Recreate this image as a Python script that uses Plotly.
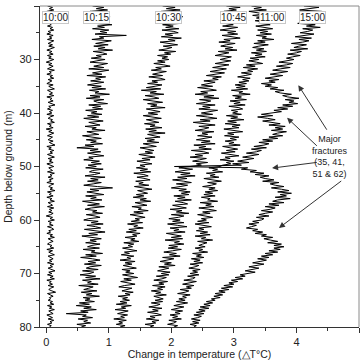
import numpy as np
import plotly.graph_objects as go

# depth below ground (m), sampled every 0.25 m from 20 m
DEPTH_START, DEPTH_STEP = 20.0, 0.25

series_names = ["10:00", "10:15", "10:30", "10:45", "11:00", "15:00"]

dT_1000 = [
    0.02,0.10,0.05,0.12,0.01,0.08,0.04,0.11,0.06,0.00,0.09,0.03,0.13,0.05,0.08,0.02,0.10,0.06,0.12,0.03,
    0.07,0.01,0.11,0.05,0.09,0.02,0.12,0.06,0.03,0.10,0.04,0.13,0.07,0.01,0.09,0.05,0.11,0.02,0.08,0.04,
    0.12,0.06,0.00,0.09,0.04,0.11,0.07,0.02,0.13,0.05,0.08,0.01,0.10,0.06,0.12,0.03,0.09,0.05,0.01,0.11,
    0.04,0.08,0.13,0.02,0.07,0.10,0.05,0.12,0.01,0.09,0.06,0.11,0.03,0.08,0.14,0.04,0.07,0.02,0.10,0.05,
    0.09,0.01,0.12,0.06,0.03,0.10,0.07,0.13,0.02,0.08,0.05,0.11,0.00,0.09,0.04,0.12,0.06,0.02,0.10,0.07,
    0.03,0.11,0.05,0.09,0.14,0.01,0.08,0.04,0.12,0.06,0.10,0.02,0.07,0.13,0.03,0.09,0.05,0.11,0.01,0.08,
    0.12,0.04,0.07,0.10,0.02,0.13,0.06,0.09,0.03,0.11,0.05,0.08,0.01,0.12,0.07,0.04,0.10,0.06,0.14,0.02,
    0.08,0.05,0.11,0.01,0.09,0.06,0.13,0.03,0.07,0.10,0.02,0.12,0.05,0.09,0.04,0.11,0.07,0.00,0.10,0.06,
    0.13,0.03,0.08,0.05,0.11,0.02,0.09,0.12,0.04,0.07,0.01,0.10,0.06,0.13,0.03,0.08,0.11,0.05,0.02,0.09,
    0.06,0.12,0.01,0.10,0.04,0.08,0.13,0.03,0.07,0.11,0.05,0.09,0.02,0.12,0.06,0.10,0.03,0.08,0.14,0.04,
    0.09,0.02,0.11,0.06,0.13,0.01,0.08,0.05,0.10,0.03,0.12,0.07,0.04,0.09,0.15,0.02,0.08,0.11,0.05,0.07,
    0.03,0.10,0.06,0.12,0.02,0.09,0.05,0.13,0.04,0.08,0.11,0.01,0.07,0.10,0.03,0.12,0.06,0.09,0.02,0.08,
    0.05]

dT_1015 = [
    0.74,0.92,0.80,0.98,0.70,0.88,0.95,0.76,1.02,0.84,0.71,0.96,0.87,0.78,1.05,0.82,0.93,0.74,1.00,0.86,
    0.97,0.78,1.28,0.85,0.92,0.73,1.04,0.88,0.79,0.99,0.76,0.94,0.83,1.06,0.75,0.90,0.97,0.80,0.88,0.72,
    0.94,0.81,0.70,0.98,0.86,0.76,0.92,0.68,1.00,0.83,0.74,0.89,0.65,0.95,0.79,0.87,0.71,0.92,0.80,0.66,
    0.88,0.73,0.95,0.69,0.84,0.78,1.01,0.70,0.86,0.64,0.92,0.76,0.82,0.98,0.68,0.87,0.74,0.90,0.63,0.81,
    0.72,0.89,0.66,0.84,0.60,0.79,0.91,0.68,0.77,0.86,0.62,0.80,0.73,0.94,0.65,0.78,0.84,0.58,0.75,0.88,
    0.64,0.80,0.71,0.90,0.62,0.76,0.49,0.83,0.70,0.87,0.66,0.79,0.92,0.68,0.75,0.60,0.85,0.72,0.88,0.67,
    0.80,0.63,0.91,0.74,0.69,0.86,0.77,0.62,0.94,0.71,0.83,0.66,0.88,0.75,0.60,0.82,1.06,0.70,0.84,0.65,
    0.77,0.92,0.63,0.80,0.71,0.89,0.58,0.76,0.85,0.66,0.93,0.72,0.62,0.81,0.74,0.90,0.64,0.78,0.86,0.68,
    0.60,0.83,0.72,0.91,0.65,0.79,0.87,0.61,0.76,0.94,0.68,0.82,0.57,0.75,0.88,0.70,0.80,0.63,0.86,0.73,
    0.66,0.85,0.59,0.78,0.72,0.90,0.63,0.80,0.55,0.74,0.86,0.67,0.79,0.61,0.88,0.70,0.64,0.83,0.58,0.76,
    0.70,0.54,0.79,0.63,0.86,0.58,0.72,0.66,0.83,0.52,0.75,0.68,0.60,0.81,0.56,0.73,0.64,0.85,0.59,0.70,
    0.62,0.77,0.53,0.69,0.48,0.72,0.60,0.80,0.55,0.67,0.32,0.64,0.58,0.74,0.51,0.66,0.60,0.71,0.49,0.63,
    0.56]

dT_1030 = [
    1.86,2.06,1.92,2.14,1.84,2.00,2.10,1.88,2.18,1.95,1.83,2.08,1.97,2.15,1.86,2.03,1.91,2.12,1.85,2.04,
    2.11,1.90,2.02,1.84,2.16,1.95,2.06,1.82,1.98,2.10,1.87,2.01,1.93,1.80,2.07,1.89,1.99,1.78,1.94,1.85,
    1.96,1.78,1.90,1.72,1.88,1.98,1.75,1.84,1.68,1.92,1.80,1.70,1.86,1.64,1.82,1.90,1.69,1.78,1.62,1.85,
    1.74,1.60,1.83,1.52,1.76,1.66,1.88,1.58,1.72,1.80,1.55,1.69,1.86,1.62,1.77,1.67,1.90,1.60,1.75,1.82,
    1.63,1.78,1.55,1.72,1.84,1.60,1.69,1.80,1.57,1.74,1.66,1.85,1.59,1.76,1.64,1.90,1.62,1.71,1.82,1.58,
    1.73,1.61,1.80,1.55,1.68,1.76,1.50,1.65,1.72,1.58,1.70,1.48,1.63,1.74,1.53,1.66,1.45,1.60,1.69,1.50,
    1.58,1.44,1.62,1.50,1.67,1.40,1.56,1.63,1.45,1.58,1.66,1.43,1.55,1.48,1.64,1.41,1.57,1.69,1.46,1.53,
    1.62,1.44,1.56,1.39,1.60,1.50,1.67,1.42,1.54,1.61,1.37,1.52,1.47,1.63,1.40,1.55,1.34,1.50,1.58,1.42,
    1.49,1.36,1.54,1.30,1.46,1.40,1.55,1.32,1.44,1.28,1.50,1.38,1.45,1.26,1.42,1.35,1.48,1.24,1.40,1.31,
    1.38,1.22,1.36,1.45,1.25,1.33,1.20,1.40,1.29,1.35,1.18,1.42,1.26,1.37,1.23,1.32,1.44,1.21,1.34,1.27,
    1.40,1.22,1.33,1.46,1.24,1.36,1.19,1.31,1.42,1.25,1.16,1.37,1.28,1.21,1.39,1.26,1.34,1.15,1.30,1.22,
    1.33,1.18,1.29,1.12,1.36,1.20,1.27,1.10,1.31,1.23,1.14,1.30,1.19,1.25,1.08,1.28,1.16,1.22,1.12,1.26,
    1.18]

dT_1045 = [
    2.88,3.10,2.92,3.04,2.84,3.14,2.95,2.86,3.08,2.80,3.02,2.93,3.12,2.85,2.99,2.82,3.06,2.91,2.78,3.03,
    2.90,3.06,2.81,2.97,3.10,2.84,2.94,2.76,3.02,2.88,2.79,2.98,2.86,3.05,2.75,2.92,2.83,2.70,2.96,2.85,
    2.78,2.95,2.84,2.70,2.92,2.80,2.66,2.88,2.74,2.62,2.85,2.71,2.56,2.80,2.66,2.75,2.52,2.70,2.60,2.48,
    2.66,2.42,2.60,2.72,2.47,2.58,2.38,2.68,2.52,2.76,2.45,2.63,2.55,2.40,2.70,2.50,2.62,2.44,2.74,2.57,
    2.48,2.66,2.40,2.58,2.73,2.46,2.62,2.35,2.56,2.70,2.44,2.60,2.52,2.38,2.68,2.49,2.58,2.42,2.65,2.50,
    2.40,2.62,2.48,2.70,2.36,2.55,2.44,2.64,2.32,2.52,2.60,2.38,2.50,2.30,2.56,2.45,2.34,2.58,2.40,2.48,
    2.28,2.12,2.34,2.18,2.06,2.30,2.15,2.38,2.10,2.25,2.02,2.20,2.32,2.08,2.26,2.14,2.00,2.24,2.12,2.30,
    2.16,2.28,2.04,2.22,2.10,2.32,2.06,2.19,2.26,2.02,2.14,2.24,1.98,2.17,2.08,2.28,2.00,2.20,2.11,1.96,
    2.14,2.02,2.20,1.94,2.10,2.25,1.98,2.12,2.04,2.22,1.92,2.08,2.16,2.00,2.18,1.90,2.13,2.05,2.20,1.96,
    2.10,1.95,2.16,2.02,1.88,2.08,1.97,2.14,1.86,2.04,1.92,1.82,2.00,1.89,2.06,1.80,1.96,1.87,1.78,1.98,
    1.84,1.96,1.76,1.92,1.85,1.72,1.94,1.80,1.88,1.70,1.90,1.78,1.86,1.68,1.83,1.75,1.92,1.72,1.80,1.87,
    1.74,1.86,1.68,1.82,1.76,1.64,1.85,1.70,1.79,1.62,1.77,1.84,1.66,1.74,1.60,1.80,1.69,1.75,1.58,1.72,
    1.66]

dT_1100 = [
    3.28,3.44,3.32,3.52,3.24,3.40,3.50,3.30,3.46,3.36,3.56,3.34,3.48,3.40,3.58,3.35,3.50,3.62,3.38,3.54,
    3.42,3.60,3.36,3.52,3.45,3.64,3.38,3.50,3.32,3.55,3.40,3.30,3.48,3.36,3.52,3.28,3.45,3.34,3.50,3.26,
    3.40,3.24,3.36,3.46,3.20,3.34,3.15,3.38,3.22,3.30,3.12,3.28,3.18,3.06,3.26,3.14,3.24,3.08,3.20,3.02,
    3.18,3.04,3.22,2.96,3.14,3.08,3.26,2.98,3.12,3.02,3.20,2.94,3.10,3.00,3.18,2.92,3.08,3.14,2.96,3.06,
    2.98,3.12,2.88,3.06,2.95,3.16,2.90,3.04,2.86,3.10,2.97,3.08,2.84,3.02,3.14,2.90,3.00,2.85,3.08,2.94,
    3.04,2.86,3.00,2.92,3.10,2.82,2.98,3.06,2.88,3.02,2.80,2.96,3.08,2.86,2.94,2.78,3.00,2.88,2.95,2.82,
    2.78,2.60,2.74,2.66,2.82,2.56,2.70,2.62,2.76,2.52,2.68,2.80,2.58,2.72,2.64,2.50,2.70,2.60,2.74,2.54,
    2.66,2.52,2.70,2.48,2.62,2.58,2.74,2.46,2.64,2.55,2.68,2.44,2.60,2.72,2.50,2.62,2.42,2.58,2.66,2.48,
    2.56,2.42,2.60,2.38,2.54,2.64,2.44,2.52,2.40,2.58,2.46,2.62,2.38,2.55,2.48,2.66,2.42,2.57,2.50,2.44,
    2.54,2.38,2.50,2.44,2.58,2.34,2.48,2.40,2.52,2.32,2.46,2.36,2.50,2.30,2.44,2.38,2.28,2.46,2.34,2.42,
    2.30,2.44,2.26,2.38,2.34,2.20,2.40,2.28,2.18,2.36,2.24,2.32,2.14,2.28,2.22,2.10,2.30,2.18,2.24,2.12,
    2.22,2.08,2.26,2.14,2.04,2.20,2.12,2.00,2.18,2.06,2.14,1.98,2.10,2.02,2.16,1.96,2.08,2.04,1.94,2.10,
    2.04]

dT_1500 = [
    4.12,4.36,4.20,4.05,4.40,4.26,4.14,4.44,4.18,4.30,4.08,4.34,4.24,4.02,4.30,4.16,4.38,4.10,4.26,4.18,
    4.06,4.28,4.14,3.98,4.24,4.04,4.20,4.10,3.92,4.16,4.04,3.96,4.18,3.90,4.08,4.00,3.86,4.06,3.94,3.84,
    3.96,3.80,3.72,3.94,3.84,3.68,3.90,3.74,3.62,3.86,3.70,3.58,3.78,3.64,3.50,3.72,3.56,3.66,3.44,3.60,
    3.50,3.70,3.58,3.80,3.66,3.74,3.92,3.78,3.86,4.04,3.82,3.96,3.88,4.02,3.78,3.94,3.70,3.86,3.64,3.76,
    3.58,3.44,3.62,3.38,3.54,3.66,3.46,3.60,3.74,3.56,3.82,3.66,3.78,3.60,3.84,3.70,3.62,3.78,3.56,3.70,
    3.46,3.62,3.40,3.56,3.48,3.32,3.52,3.28,3.44,3.36,3.20,3.40,3.26,3.14,3.32,3.18,3.06,3.24,2.98,3.12,
    2.05,3.22,3.12,3.36,3.26,3.48,3.34,3.56,3.42,3.50,3.64,3.46,3.72,3.58,3.66,3.80,3.60,3.76,3.88,3.70,
    3.92,3.74,3.84,3.66,3.90,3.70,3.62,3.80,3.56,3.72,3.50,3.66,3.58,3.44,3.62,3.50,3.40,3.56,3.36,3.48,
    3.44,3.30,3.40,3.24,3.36,3.28,3.20,3.38,3.30,3.46,3.34,3.52,3.44,3.62,3.48,3.58,3.70,3.54,3.76,3.64,
    3.80,3.64,3.74,3.56,3.70,3.50,3.62,3.44,3.56,3.38,3.52,3.42,3.30,3.48,3.34,3.24,3.40,3.28,3.18,3.34,
    3.24,3.10,3.18,3.02,3.14,2.96,3.06,2.92,3.00,2.84,2.98,2.80,2.92,2.76,2.86,2.70,2.82,2.68,2.78,2.64,
    2.70,2.56,2.66,2.52,2.62,2.46,2.60,2.44,2.54,2.40,2.52,2.36,2.48,2.42,2.32,2.46,2.34,2.44,2.30,2.40,
    2.36]

series_values = [dT_1000, dT_1015, dT_1030, dT_1045, dT_1100, dT_1500]

x_ticks = [0, 1, 2, 3, 4, 5]
y_ticks = [20, 30, 40, 50, 60, 70, 80]

fracture_text = "Major<br>fractures<br>(35, 41,<br>51 & 62)"

FONT = "Liberation Sans, Arial, sans-serif"

fig = go.Figure()
for name, vals in zip(series_names, series_values):
    depth_m = DEPTH_START + DEPTH_STEP * np.arange(len(vals))
    fig.add_trace(go.Scatter(x=vals, y=depth_m, mode="lines", name=name,
                             line=dict(color="black", width=1)))

# time labels (positions in data coordinates)
label_x = [0.14, 0.81, 1.95, 2.99, 3.61, 4.25]
for name, lx in zip(series_names, label_x):
    fig.add_annotation(x=lx, y=22.1, xref="x", yref="y", text=name, showarrow=False,
                       font=dict(family=FONT, size=10, color="#222"),
                       bgcolor="white", bordercolor="#c8c8c8", borderwidth=1, borderpad=0)

# arrows to fractures
heads = [(4.03, 34.8), (3.85, 40.9), (3.61, 50.3), (3.72, 61.5)]
tails = [(4.50, 43.4), (4.35, 46.4), (4.35, 49.2), (4.74, 52.5)]
for (hx, hy), (tx, ty) in zip(heads, tails):
    fig.add_annotation(x=hx, y=hy, ax=tx, ay=ty, xref="x", yref="y", axref="x", ayref="y",
                       text="", showarrow=True, arrowhead=2, arrowsize=1.2, arrowwidth=1,
                       arrowcolor="#333")
fig.add_annotation(x=4.54, y=48.1, xref="x", yref="y", text=fracture_text, showarrow=False,
                   font=dict(family=FONT, size=9, color="#222"), align="center")

# top and right frame lines
fig.add_shape(type="line", xref="paper", yref="paper", x0=0, x1=1, y0=1, y1=1,
              line=dict(color="#8a8a8a", width=1))
fig.add_shape(type="line", xref="paper", yref="paper", x0=1, x1=1, y0=0, y1=1,
              line=dict(color="#8a8a8a", width=1))

fig.update_layout(
    width=361, height=361,
    margin=dict(l=40, r=2, t=6, b=34),
    paper_bgcolor="white", plot_bgcolor="white",
    showlegend=False,
    font=dict(family=FONT, color="#222"),
)
fig.update_xaxes(range=[-0.1, 5.0], tickvals=x_ticks, ticks="outside", ticklen=5,
                 tickcolor="#333", showline=True, linecolor="#333", linewidth=1.2,
                 showgrid=False, zeroline=False, tickfont=dict(size=11, family=FONT, color="#222"),
                 minor=dict(dtick=0.5, ticks="outside", ticklen=3, tickcolor="#333", showgrid=False),
                 title=dict(text="Change in temperature (△T°C)", standoff=2,
                            font=dict(size=10.5, family=FONT, color="#222")))
fig.update_yaxes(range=[80, 20], tickvals=y_ticks, ticks="outside", ticklen=5,
                 tickcolor="#333", showline=True, linecolor="#333", linewidth=1.2,
                 showgrid=False, zeroline=False, tickfont=dict(size=11, family=FONT, color="#222"),
                 minor=dict(dtick=5, ticks="outside", ticklen=3, tickcolor="#333", showgrid=False),
                 title=dict(text="Depth below ground (m)", standoff=4,
                            font=dict(size=10.5, family=FONT, color="#222")))

fig.write_html("out.html")
